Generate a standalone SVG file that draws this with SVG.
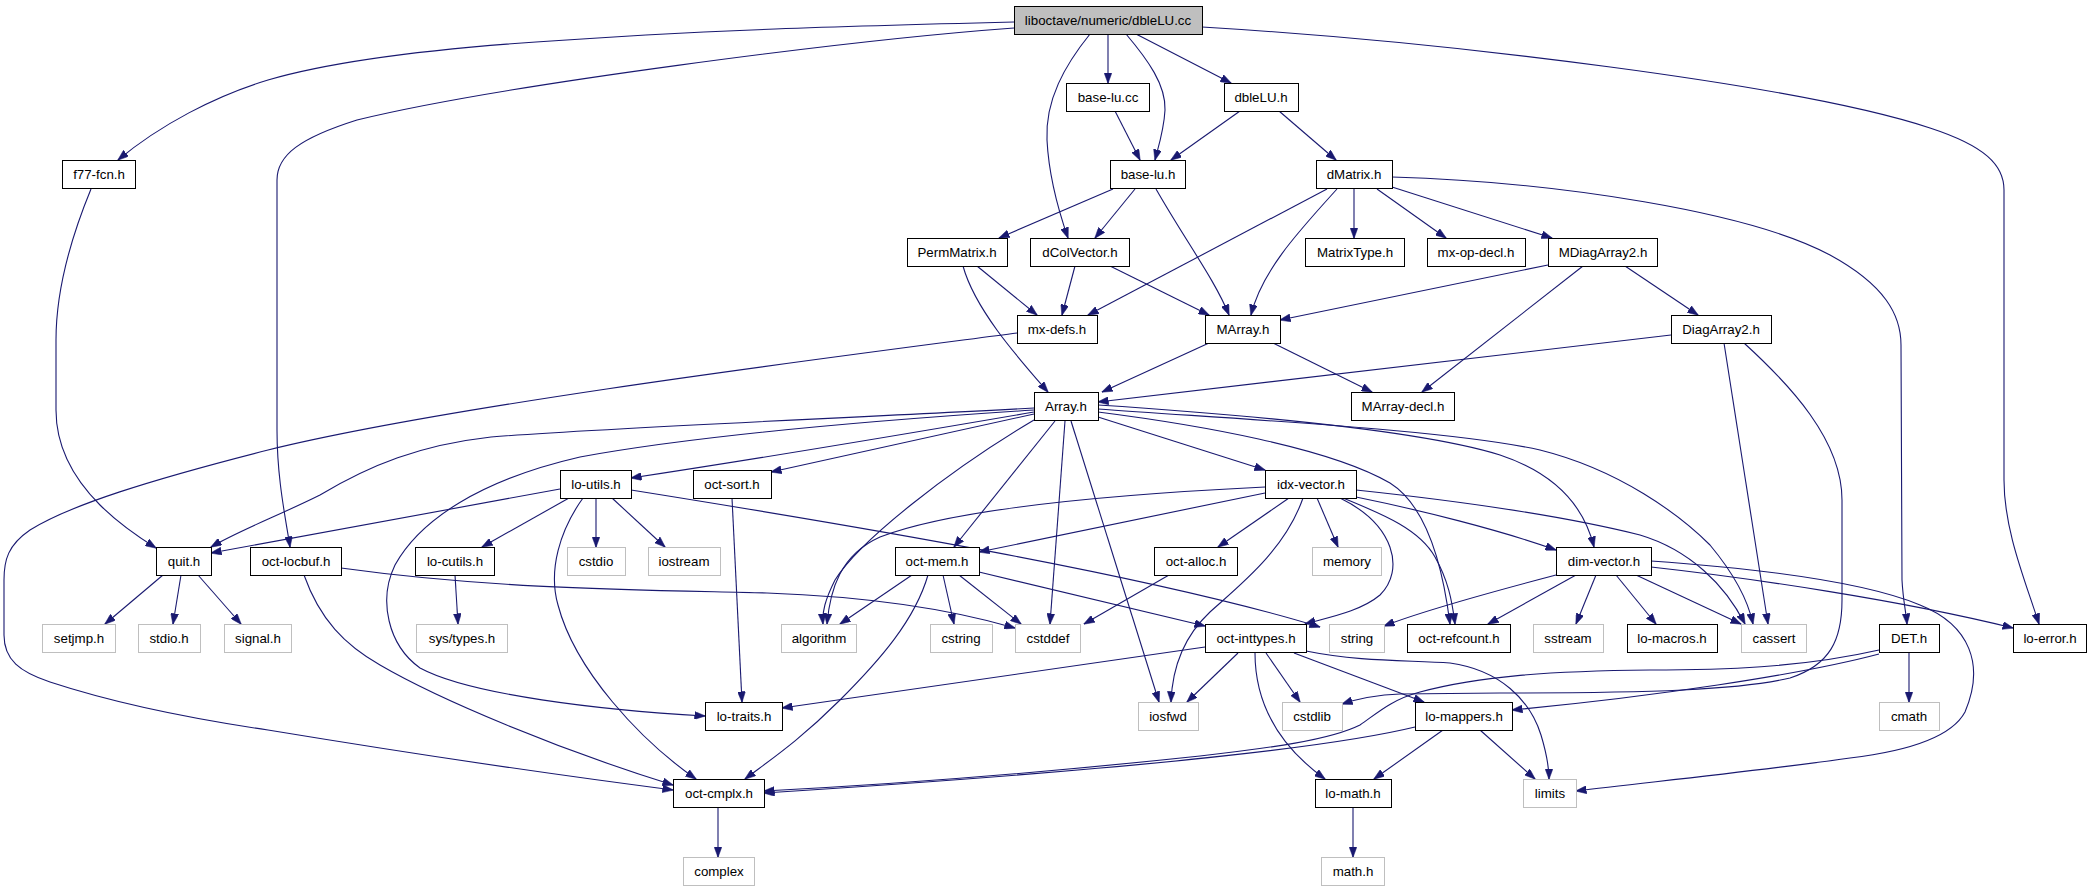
<svg xmlns="http://www.w3.org/2000/svg" width="2091" height="891" viewBox="0 0 2091 891">
<defs>
<style>
.n rect{fill:#fff;stroke:#000;stroke-width:1}
.g rect{fill:#fff;stroke:#bfbfbf;stroke-width:1}
.m rect{fill:#bfbfbf;stroke:#000;stroke-width:1}
text{font-family:"Liberation Sans",Arial,Helvetica,sans-serif;font-size:13.3px;text-anchor:middle;fill:#000}
#edges path{fill:none;stroke:#191970;stroke-width:1.1;marker-end:url(#a)}
</style>
<marker id="a" viewBox="0 0 11 8" refX="10.5" refY="4" markerWidth="11" markerHeight="8" orient="auto" markerUnits="userSpaceOnUse"><path d="M0,0 L11,4 L0,8 z" fill="#191970" stroke="#191970" stroke-width="0.5"/></marker>
</defs>
<rect width="2091" height="891" fill="#fff"/>
<g id="edges">
<path d="M1014,22 C850,26 700,30 536,42 C420,50 330,62 268,80 C215,96 160,125 118,160"/>
<path d="M1014,28 C850,40 500,85 357,120 C300,138 277,155 277,180 L277,430 C277,480 286,520 290,547"/>
<path d="M1108,34 L1108,83"/>
<path d="M1126,34 C1148,60 1166,85 1165,110 C1164,130 1158,148 1155,160"/>
<path d="M1090,34 C1065,65 1045,100 1047,140 C1049,180 1060,215 1068,238"/>
<path d="M1136,34 L1231,83"/>
<path d="M1202,27 C1450,42 1800,85 1930,128 C1985,146 2004,165 2004,190 L2004,480 C2004,530 2025,580 2039,624"/>
<path d="M1115,111 L1140,160"/>
<path d="M1240,111 L1171,160"/>
<path d="M1279,111 L1336,160"/>
<path d="M1113,189 L999,238"/>
<path d="M1135,189 L1095,238"/>
<path d="M1156,189 C1185,240 1215,280 1229,315"/>
<path d="M1327,189 L1088,315"/>
<path d="M1337,189 C1300,230 1262,270 1251,315"/>
<path d="M1354,189 L1354,238"/>
<path d="M1377,189 L1446,238"/>
<path d="M1392,187 L1552,238"/>
<path d="M1392,177 C1560,182 1750,212 1830,255 C1885,285 1901,315 1901,345 L1902,580 C1903,600 1906,612 1907,624"/>
<path d="M977,266 L1037,315"/>
<path d="M963,266 C975,310 1020,360 1048,392"/>
<path d="M1075,266 L1062,315"/>
<path d="M1110,266 L1209,315"/>
<path d="M1548,265 L1280,320"/>
<path d="M1625,266 L1698,315"/>
<path d="M1583,266 L1422,392"/>
<path d="M1017,333 C850,355 450,405 268,450 C150,480 70,505 30,530 C8,545 4,560 4,580 L4,635 C4,660 20,672 50,682 C120,705 200,720 268,730 C450,760 580,778 673,790"/>
<path d="M1209,343 L1102,392"/>
<path d="M1273,343 L1372,392"/>
<path d="M1671,335 L1098,402"/>
<path d="M1724,343 L1768,624"/>
<path d="M1744,343 C1790,385 1842,440 1842,500 L1842,600 C1842,640 1830,665 1790,678 C1740,690 1650,693 1500,693 L1400,694 C1375,695 1360,698 1342,704"/>
<path d="M1034,408 C850,418 600,428 491,437 C420,445 370,465 320,495 C280,515 240,530 211,547"/>
<path d="M1034,410 C880,420 700,435 580,457 C480,480 420,520 395,565 C378,600 388,645 420,668 C470,695 600,710 705,716"/>
<path d="M1034,412 C900,435 750,460 631,478"/>
<path d="M1034,414 L771,472"/>
<path d="M1034,420 C950,470 860,540 835,580 C825,600 822,612 823,624"/>
<path d="M1055,421 L954,547"/>
<path d="M1065,421 L1050,624"/>
<path d="M1071,421 L1159,702"/>
<path d="M1098,417 L1265,470"/>
<path d="M1098,412 C1200,425 1330,448 1390,483 C1425,505 1442,560 1450,624"/>
<path d="M1098,405 C1250,415 1420,430 1500,455 C1560,475 1585,510 1594,547"/>
<path d="M1098,409 C1250,420 1450,430 1540,450 C1620,470 1680,515 1710,545 C1735,575 1748,600 1753,624"/>
<path d="M560,489 L211,553"/>
<path d="M569,498 L482,547"/>
<path d="M596,498 L596,547"/>
<path d="M612,498 L665,547"/>
<path d="M631,490 C850,525 1150,575 1320,627"/>
<path d="M583,498 C560,530 548,570 558,605 C575,670 640,740 696,779"/>
<path d="M163,575 L105,624"/>
<path d="M181,575 L173,624"/>
<path d="M198,575 L241,624"/>
<path d="M91,189 C70,240 56,290 56,340 L56,410 C56,450 75,480 100,505 C120,525 140,538 156,548"/>
<path d="M732,498 L742,702"/>
<path d="M341,568 C500,590 650,590 767,593 C880,597 960,612 1015,628"/>
<path d="M304,575 C320,620 345,645 380,665 C440,700 560,750 673,785"/>
<path d="M455,575 L458,624"/>
<path d="M1265,487 C1100,495 950,510 880,537 C840,555 830,590 827,624"/>
<path d="M1265,493 L979,552"/>
<path d="M1289,498 L1218,547"/>
<path d="M1317,498 L1338,547"/>
<path d="M1303,498 C1285,550 1240,585 1210,612 C1180,640 1172,675 1171,702"/>
<path d="M1340,498 C1395,525 1405,570 1380,595 C1360,612 1325,618 1305,624"/>
<path d="M1343,498 C1385,515 1420,530 1435,557 C1448,580 1452,600 1455,624"/>
<path d="M1356,497 C1420,510 1500,530 1556,550"/>
<path d="M1356,490 C1450,500 1560,515 1640,535 C1690,550 1725,585 1745,624"/>
<path d="M912,575 L840,624"/>
<path d="M943,575 L954,624"/>
<path d="M959,575 L1021,624"/>
<path d="M979,572 L1205,626"/>
<path d="M928,575 C915,620 880,660 840,700 C800,740 770,760 745,779"/>
<path d="M1169,575 L1084,624"/>
<path d="M1556,575 C1480,595 1420,612 1384,626"/>
<path d="M1576,575 L1488,624"/>
<path d="M1596,575 L1576,624"/>
<path d="M1616,575 L1656,624"/>
<path d="M1636,575 L1741,624"/>
<path d="M1651,567 C1750,578 1900,600 2013,628"/>
<path d="M1651,561 C1750,568 1860,580 1920,605 C1970,625 1985,665 1965,712 C1950,740 1900,752 1850,758 C1750,772 1650,782 1576,791"/>
<path d="M1205,647 L782,708"/>
<path d="M1238,653 L1187,702"/>
<path d="M1266,653 L1300,702"/>
<path d="M1255,653 C1255,710 1285,750 1325,779"/>
<path d="M1294,653 L1424,702"/>
<path d="M1306,651 C1360,662 1410,660 1450,663 C1500,670 1530,700 1541,735 C1547,755 1549,770 1549,779"/>
<path d="M1909,653 L1909,702"/>
<path d="M1879,654 C1800,675 1650,697 1512,710"/>
<path d="M1879,650 C1800,668 1720,670 1650,670 C1550,671 1480,676 1420,692 C1390,700 1375,715 1360,725 C1330,740 1270,748 1200,756 C1050,772 900,784 764,791"/>
<path d="M1415,727 C1300,755 1000,778 764,793"/>
<path d="M1443,730 L1374,779"/>
<path d="M1480,730 L1535,779"/>
<path d="M1353,807 L1353,857"/>
<path d="M718,807 L718,857"/>
</g>
<g id="n-main" class="m"><rect x="1014.5" y="6.5" width="188" height="28"/><text x="1108" y="25">liboctave/numeric/dbleLU.cc</text></g>
<g id="n-base-lu-cc" class="n"><rect x="1066.5" y="83.5" width="83" height="28"/><text x="1108" y="102">base-lu.cc</text></g>
<g id="n-dbleLU-h" class="n"><rect x="1224.5" y="83.5" width="74" height="28"/><text x="1261" y="102">dbleLU.h</text></g>
<g id="n-f77-fcn-h" class="n"><rect x="62.5" y="160.5" width="73" height="28"/><text x="99" y="179">f77-fcn.h</text></g>
<g id="n-base-lu-h" class="n"><rect x="1110.5" y="160.5" width="75" height="28"/><text x="1148" y="179">base-lu.h</text></g>
<g id="n-dMatrix-h" class="n"><rect x="1316.5" y="160.5" width="76" height="28"/><text x="1354" y="179">dMatrix.h</text></g>
<g id="n-PermMatrix-h" class="n"><rect x="907.5" y="238.5" width="100" height="28"/><text x="957" y="257">PermMatrix.h</text></g>
<g id="n-dColVector-h" class="n"><rect x="1030.5" y="238.5" width="99" height="28"/><text x="1080" y="257">dColVector.h</text></g>
<g id="n-MatrixType-h" class="n"><rect x="1305.5" y="238.5" width="99" height="28"/><text x="1355" y="257">MatrixType.h</text></g>
<g id="n-mx-op-decl-h" class="n"><rect x="1427.5" y="238.5" width="98" height="28"/><text x="1476" y="257">mx-op-decl.h</text></g>
<g id="n-MDiagArray2-h" class="n"><rect x="1548.5" y="238.5" width="109" height="28"/><text x="1603" y="257">MDiagArray2.h</text></g>
<g id="n-mx-defs-h" class="n"><rect x="1017.5" y="315.5" width="80" height="28"/><text x="1057" y="334">mx-defs.h</text></g>
<g id="n-MArray-h" class="n"><rect x="1205.5" y="315.5" width="75" height="28"/><text x="1243" y="334">MArray.h</text></g>
<g id="n-DiagArray2-h" class="n"><rect x="1671.5" y="315.5" width="100" height="28"/><text x="1721" y="334">DiagArray2.h</text></g>
<g id="n-Array-h" class="n"><rect x="1034.5" y="392.5" width="64" height="28"/><text x="1066" y="411">Array.h</text></g>
<g id="n-MArray-decl-h" class="n"><rect x="1351.5" y="392.5" width="103" height="28"/><text x="1403" y="411">MArray-decl.h</text></g>
<g id="n-lo-utils-h" class="n"><rect x="560.5" y="470.5" width="71" height="28"/><text x="596" y="489">lo-utils.h</text></g>
<g id="n-oct-sort-h" class="n"><rect x="693.5" y="470.5" width="78" height="28"/><text x="732" y="489">oct-sort.h</text></g>
<g id="n-idx-vector-h" class="n"><rect x="1265.5" y="470.5" width="91" height="28"/><text x="1311" y="489">idx-vector.h</text></g>
<g id="n-quit-h" class="n"><rect x="156.5" y="547.5" width="55" height="28"/><text x="184" y="566">quit.h</text></g>
<g id="n-oct-locbuf-h" class="n"><rect x="250.5" y="547.5" width="91" height="28"/><text x="296" y="566">oct-locbuf.h</text></g>
<g id="n-lo-cutils-h" class="n"><rect x="415.5" y="547.5" width="79" height="28"/><text x="455" y="566">lo-cutils.h</text></g>
<g id="n-cstdio" class="g"><rect x="567.5" y="547.5" width="58" height="28"/><text x="596" y="566">cstdio</text></g>
<g id="n-iostream" class="g"><rect x="648.5" y="547.5" width="72" height="28"/><text x="684" y="566">iostream</text></g>
<g id="n-oct-mem-h" class="n"><rect x="895.5" y="547.5" width="84" height="28"/><text x="937" y="566">oct-mem.h</text></g>
<g id="n-oct-alloc-h" class="n"><rect x="1154.5" y="547.5" width="83" height="28"/><text x="1196" y="566">oct-alloc.h</text></g>
<g id="n-memory" class="g"><rect x="1312.5" y="547.5" width="69" height="28"/><text x="1347" y="566">memory</text></g>
<g id="n-dim-vector-h" class="n"><rect x="1556.5" y="547.5" width="95" height="28"/><text x="1604" y="566">dim-vector.h</text></g>
<g id="n-setjmp-h" class="g"><rect x="42.5" y="624.5" width="73" height="28"/><text x="79" y="643">setjmp.h</text></g>
<g id="n-stdio-h" class="g"><rect x="138.5" y="624.5" width="62" height="28"/><text x="169" y="643">stdio.h</text></g>
<g id="n-signal-h" class="g"><rect x="224.5" y="624.5" width="67" height="28"/><text x="258" y="643">signal.h</text></g>
<g id="n-sys-types-h" class="g"><rect x="416.5" y="624.5" width="91" height="28"/><text x="462" y="643">sys/types.h</text></g>
<g id="n-algorithm" class="g"><rect x="781.5" y="624.5" width="75" height="28"/><text x="819" y="643">algorithm</text></g>
<g id="n-cstring" class="g"><rect x="930.5" y="624.5" width="62" height="28"/><text x="961" y="643">cstring</text></g>
<g id="n-cstddef" class="g"><rect x="1015.5" y="624.5" width="65" height="28"/><text x="1048" y="643">cstddef</text></g>
<g id="n-oct-inttypes-h" class="n"><rect x="1205.5" y="624.5" width="101" height="28"/><text x="1256" y="643">oct-inttypes.h</text></g>
<g id="n-string" class="g"><rect x="1329.5" y="624.5" width="55" height="28"/><text x="1357" y="643">string</text></g>
<g id="n-oct-refcount-h" class="n"><rect x="1407.5" y="624.5" width="103" height="28"/><text x="1459" y="643">oct-refcount.h</text></g>
<g id="n-sstream" class="g"><rect x="1533.5" y="624.5" width="70" height="28"/><text x="1568" y="643">sstream</text></g>
<g id="n-lo-macros-h" class="n"><rect x="1627.5" y="624.5" width="90" height="28"/><text x="1672" y="643">lo-macros.h</text></g>
<g id="n-cassert" class="g"><rect x="1741.5" y="624.5" width="65" height="28"/><text x="1774" y="643">cassert</text></g>
<g id="n-DET-h" class="n"><rect x="1879.5" y="624.5" width="60" height="28"/><text x="1909" y="643">DET.h</text></g>
<g id="n-lo-error-h" class="n"><rect x="2013.5" y="624.5" width="73" height="28"/><text x="2050" y="643">lo-error.h</text></g>
<g id="n-lo-traits-h" class="n"><rect x="705.5" y="702.5" width="77" height="28"/><text x="744" y="721">lo-traits.h</text></g>
<g id="n-iosfwd" class="g"><rect x="1138.5" y="702.5" width="60" height="28"/><text x="1168" y="721">iosfwd</text></g>
<g id="n-cstdlib" class="g"><rect x="1282.5" y="702.5" width="60" height="28"/><text x="1312" y="721">cstdlib</text></g>
<g id="n-lo-mappers-h" class="n"><rect x="1415.5" y="702.5" width="97" height="28"/><text x="1464" y="721">lo-mappers.h</text></g>
<g id="n-cmath" class="g"><rect x="1879.5" y="702.5" width="60" height="28"/><text x="1909" y="721">cmath</text></g>
<g id="n-oct-cmplx-h" class="n"><rect x="673.5" y="779.5" width="91" height="28"/><text x="719" y="798">oct-cmplx.h</text></g>
<g id="n-lo-math-h" class="n"><rect x="1315.5" y="779.5" width="76" height="28"/><text x="1353" y="798">lo-math.h</text></g>
<g id="n-limits" class="g"><rect x="1523.5" y="779.5" width="53" height="28"/><text x="1550" y="798">limits</text></g>
<g id="n-complex" class="g"><rect x="683.5" y="857.5" width="71" height="28"/><text x="719" y="876">complex</text></g>
<g id="n-math-h" class="g"><rect x="1321.5" y="857.5" width="63" height="28"/><text x="1353" y="876">math.h</text></g>
</svg>
